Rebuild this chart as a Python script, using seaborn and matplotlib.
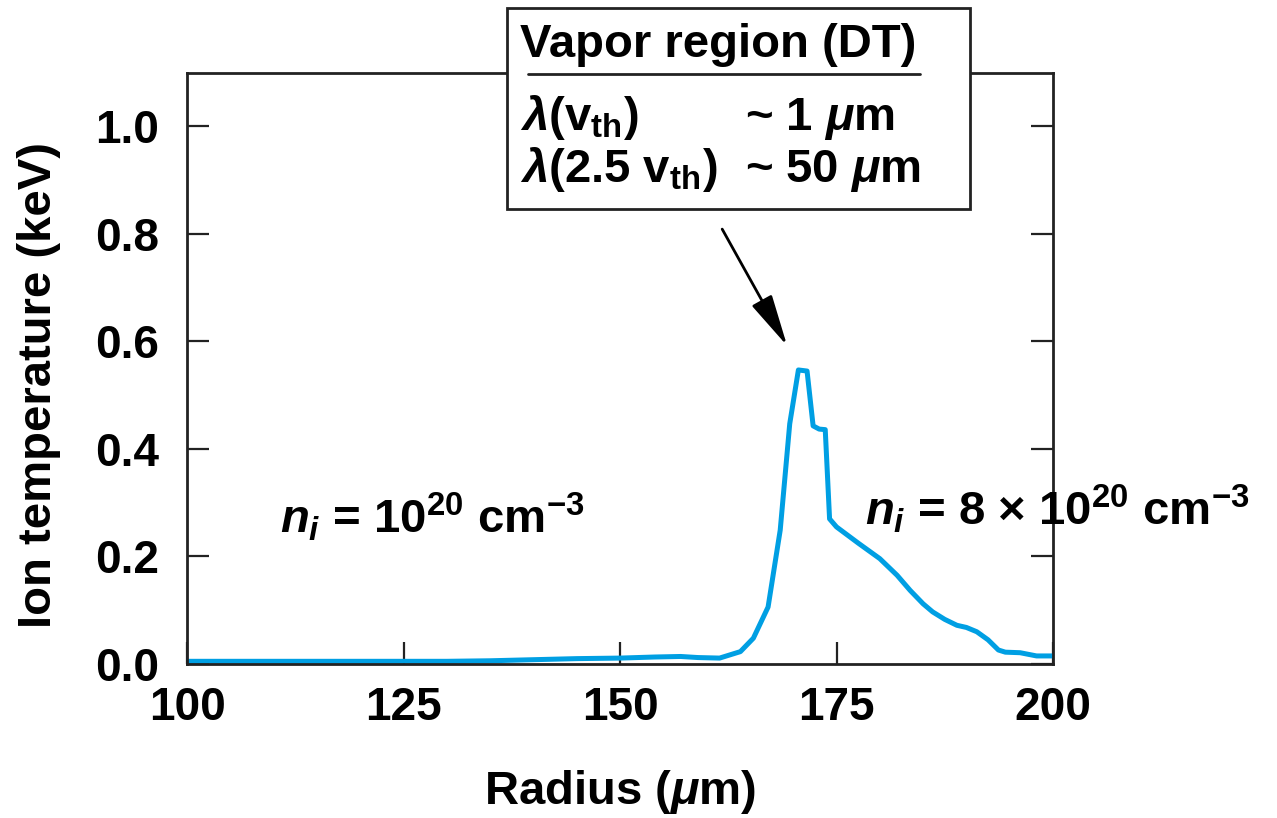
import numpy as np
import pandas as pd
import matplotlib
matplotlib.use("Agg")
import matplotlib.pyplot as plt
import seaborn as sns
from matplotlib.patches import Rectangle
from matplotlib.lines import Line2D

# Ion temperature profile
radius = [100, 110, 120, 130, 135, 140, 145, 150, 154, 157, 159, 161.5,
          163.9, 165.4, 167.1, 168.5, 169.6, 170.6, 171.6, 172.3, 173.0,
          173.7, 174.2, 175.0, 177.5, 180.0, 182.0, 183.5, 185.0, 186.1,
          187.5, 188.9, 190.0, 191.2, 192.5, 193.7, 194.5, 196.2, 198.1, 200]
temp_kev = [0.005, 0.005, 0.005, 0.005, 0.006, 0.008, 0.010, 0.011, 0.013,
            0.014, 0.012, 0.011, 0.023, 0.048, 0.106, 0.249, 0.447, 0.547,
            0.545, 0.443, 0.437, 0.436, 0.270, 0.255, 0.225, 0.196, 0.165,
            0.137, 0.112, 0.097, 0.083, 0.072, 0.068, 0.060, 0.045, 0.026,
            0.022, 0.021, 0.015, 0.015]

x_ticks = [100, 125, 150, 175, 200]
y_ticks = [0.0, 0.2, 0.4, 0.6, 0.8, 1.0]

df = pd.DataFrame({"radius": radius, "temp": temp_kev})

sns.set_style("ticks")
plt.rcParams["font.family"] = ["Liberation Sans", "DejaVu Sans"]
plt.rcParams["font.weight"] = "bold"
plt.rcParams["text.color"] = "black"
plt.rcParams["axes.labelcolor"] = "black"
plt.rcParams["xtick.color"] = "black"
plt.rcParams["ytick.color"] = "black"
plt.rcParams["mathtext.fontset"] = "custom"
plt.rcParams["mathtext.rm"] = "Liberation Sans:bold"
plt.rcParams["mathtext.bf"] = "Liberation Sans:bold"
plt.rcParams["mathtext.it"] = "Liberation Sans:bold:italic"

W, H = 1277, 818
fig = plt.figure(figsize=(W / 100, H / 100), dpi=100)
ax = fig.add_axes([187 / W, 1 - 664 / H, (1053 - 187) / W, (664 - 72.7) / H])

sns.lineplot(data=df, x="radius", y="temp", color="#009FE3", linewidth=3.6, ax=ax)

ax.set_xlim(100, 200)
ax.set_ylim(0, 1.1)
ax.set_xticks(x_ticks)
ax.set_yticks(y_ticks)
ax.set_yticklabels([f"{v:.1f}" for v in y_ticks])
ax.tick_params(axis="both", direction="in", length=16, width=1.6,
               labelsize=33, color="#222222", labelcolor="black")
ax.tick_params(axis="x", pad=16)
ax.tick_params(axis="y", pad=20, right=True)
for s in ax.spines.values():
    s.set_linewidth(2.0)
    s.set_color("#222222")

ax.set_xlabel(r"Radius ($\mu$m)", fontsize=34, fontweight="bold", labelpad=27)
ax.set_ylabel("Ion temperature (keV)", fontsize=34, fontweight="bold")
ax.yaxis.set_label_coords(-0.145, 0.472)

ax.text(110.7, 0.243, r"$n_i$ = 10$^{20}$ cm$^{-3}$", fontsize=34,
        fontweight="bold", va="baseline", ha="left")
ax.text(178.3, 0.258, r"$n_i$ = 8 $\times$ 10$^{20}$ cm$^{-3}$", fontsize=34,
        fontweight="bold", va="baseline", ha="left", clip_on=False)

ax.annotate("", xy=(169.3, 0.592), xytext=(161.8, 0.809),
            arrowprops=dict(arrowstyle="-|>,head_length=1.6,head_width=0.35",
                            color="black", lw=2, mutation_scale=20,
                            shrinkA=0, shrinkB=0))

# label box in figure pixels
def fx(px):
    return px / W

def fy(py):
    return 1 - py / H

fig.patches.append(Rectangle((fx(507), fy(209)), fx(970) - fx(507), fy(8) - fy(209),
                             transform=fig.transFigure, facecolor="white",
                             edgecolor="#222222", linewidth=2, zorder=5))
fig.text(fx(520), fy(57), "Vapor region (DT)", fontsize=34, fontweight="bold",
         va="baseline", zorder=6)
fig.lines.append(Line2D([fx(528), fx(920)], [fy(74), fy(74)], transform=fig.transFigure,
                        color="#222222", linewidth=2, zorder=6))
fig.text(fx(520), fy(130), r"$\lambda$(v$_\mathrm{th}$)", fontsize=34,
         fontweight="bold", va="baseline", zorder=6)
fig.text(fx(745), fy(130), r"~ 1 $\mu$m", fontsize=34, fontweight="bold",
         va="baseline", zorder=6)
fig.text(fx(520), fy(182), r"$\lambda$(2.5 v$_\mathrm{th}$)", fontsize=34,
         fontweight="bold", va="baseline", zorder=6)
fig.text(fx(745), fy(182), r"~ 50 $\mu$m", fontsize=34, fontweight="bold",
         va="baseline", zorder=6)

fig.savefig("out.png", dpi=100)
